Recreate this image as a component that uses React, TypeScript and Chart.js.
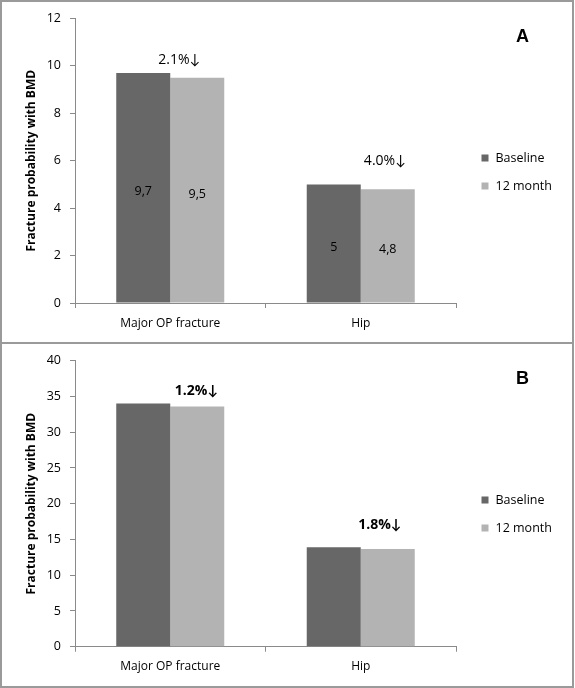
import React, { useEffect, useRef } from "react";
import { Chart, registerables } from "chart.js";

Chart.register(...registerables);

// ---- data ----
const categories = ["Major OP fracture", "Hip"];
const seriesNames = ["Baseline", "12 month"];
const baselineA = [9.7, 5];
const month12A = [9.5, 4.8];
const baselineB = [34.0, 13.9];
const month12B = [33.6, 13.65];
const yMaxA = 12;
const yStepA = 2;
const yMaxB = 40;
const yStepB = 5;
const changeLabelsA = ["2.1%\u2193", "4.0%\u2193"];
const changeLabelsB = ["1.2%\u2193", "1.8%\u2193"];
const axisTitle = "Fracture probability with BMD";

// ---- style / placement ----
const DARK = "#676767";
const LIGHT = "#b3b3b3";
const AXIS = "#8a8a8a";
const FONT = "'Open Sans', Lato, sans-serif";
// annotation anchors: [category offset (in category widths), y value]
const anchorsA = [[0.047, 10.25], [0.126, 5.98]];
const anchorsB = [[0.137, 35.76], [0.1, 17.0]];

const decorPlugin = {
  id: "decor",
  afterDatasetsDraw(chart: any, _args: any, opts: any) {
    const ctx = chart.ctx;
    const xs = chart.scales.x;
    const ys = chart.scales.y;
    ctx.save();
    // value labels
    if (opts.showValues) {
      ctx.font = `12.5px ${FONT}`;
      ctx.fillStyle = "#000";
      ctx.textAlign = "center";
      ctx.textBaseline = "middle";
      chart.data.datasets.forEach((ds: any, i: number) => {
        const meta = chart.getDatasetMeta(i);
        meta.data.forEach((bar: any, j: number) => {
          const v = ds.data[j];
          ctx.fillText(String(v).replace(".", ","), bar.x, (bar.y + bar.base) / 2 + 4);
        });
      });
    }
    // change annotations
    ctx.font = `${opts.bold ? "bold " : ""}14px ${FONT}`;
    ctx.fillStyle = "#000";
    ctx.textAlign = "center";
    ctx.textBaseline = "middle";
    const catW = (xs.right - xs.left) / chart.data.labels.length;
    opts.labels.forEach((t: string, j: number) => {
      const [dx, yv] = opts.anchors[j];
      const x = xs.getPixelForValue(j) + dx * catW;
      const y = ys.getPixelForValue(yv);
      ctx.fillText(t, x, y);
    });
    // legend
    ctx.font = `12.5px ${FONT}`;
    ctx.textAlign = "left";
    chart.data.datasets.forEach((ds: any, i: number) => {
      const cy = opts.legendTop + i * 28;
      ctx.fillStyle = ds.backgroundColor;
      ctx.fillRect(opts.legendX, cy - 3.5, 7, 7);
      ctx.fillStyle = "#000";
      ctx.fillText(ds.label, opts.legendX + 14, cy);
    });
    // panel letter
    ctx.font = `bold 18px Arial, 'Liberation Sans', sans-serif`;
    ctx.textAlign = "center";
    ctx.fillText(opts.letter, opts.letterX, opts.letterY);
    ctx.restore();
  },
};

function makeConfig(
  base: number[],
  m12: number[],
  yMax: number,
  yStep: number,
  labels: string[],
  anchors: number[][],
  letter: string,
  bold: boolean,
  showValues: boolean,
  padTop: number,
  xHeight: number
): any {
  return {
    type: "bar",
    data: {
      labels: categories,
      datasets: [
        { label: seriesNames[0], data: base, backgroundColor: DARK, borderWidth: 0 },
        { label: seriesNames[1], data: m12, backgroundColor: LIGHT, borderWidth: 0 },
      ],
    },
    plugins: [decorPlugin],
    options: {
      animation: false,
      responsive: false,
      maintainAspectRatio: false,
      layout: { padding: { top: padTop, right: 116, bottom: 0, left: 0 } },
      datasets: { bar: { categoryPercentage: 0.567, barPercentage: 1 } },
      plugins: {
        legend: { display: false },
        tooltip: { enabled: false },
        decor: {
          labels,
          anchors,
          letter,
          bold,
          showValues,
          legendX: 479.5,
          legendTop: 156,
          letterX: 520.5,
          letterY: 35,
        },
      },
      scales: {
        x: {
          afterFit: (s: any) => {
            s.height = xHeight;
          },
          grid: {
            display: true,
            drawOnChartArea: false,
            offset: true,
            tickLength: 5,
            color: AXIS,
          },
          border: { display: true, color: AXIS, width: 1 },
          ticks: { color: "#000", font: { family: FONT, size: 12 }, padding: 8 },
        },
        y: {
          min: 0,
          max: yMax,
          afterFit: (s: any) => {
            s.width = 73;
          },
          grid: {
            display: true,
            drawOnChartArea: false,
            tickLength: 5,
            color: AXIS,
          },
          border: { display: true, color: AXIS, width: 1 },
          ticks: {
            stepSize: yStep,
            color: "#000",
            font: { family: FONT, size: 12.5 },
            padding: 9,
          },
          title: {
            display: true,
            text: axisTitle,
            color: "#000",
            font: { family: FONT, size: 12, weight: "bold" },
            padding: { top: 22, bottom: 0 },
          },
        },
      },
    },
  };
}

function Panel(props: { config: any; top: number; height: number }) {
  const ref = useRef<HTMLCanvasElement | null>(null);
  useEffect(() => {
    if (!ref.current) return;
    const chart = new Chart(ref.current, props.config);
    return () => chart.destroy();
  }, []);
  return (
    <div
      style={{
        position: "absolute",
        left: 0,
        top: props.top,
        width: 570,
        height: props.height - 4,
        border: "2px solid #9a9a9a",
        background: "#fff",
      }}
    >
      <canvas ref={ref} width={570} height={340} style={{ width: 570, height: 340, display: "block" }} />
    </div>
  );
}

export default function App() {
  const cfgA = makeConfig(baselineA, month12A, yMaxA, yStepA, changeLabelsA, anchorsA, "A", false, true, 14, 39);
  const cfgB = makeConfig(baselineB, month12B, yMaxB, yStepB, changeLabelsB, anchorsB, "B", true, false, 16.7, 37.3);
  return (
    <div style={{ position: "absolute", left: 0, top: 0, width: 575, height: 688, background: "#fff" }}>
      <Panel config={cfgA} top={0} height={344} />
      <Panel config={cfgB} top={342} height={346} />
    </div>
  );
}
